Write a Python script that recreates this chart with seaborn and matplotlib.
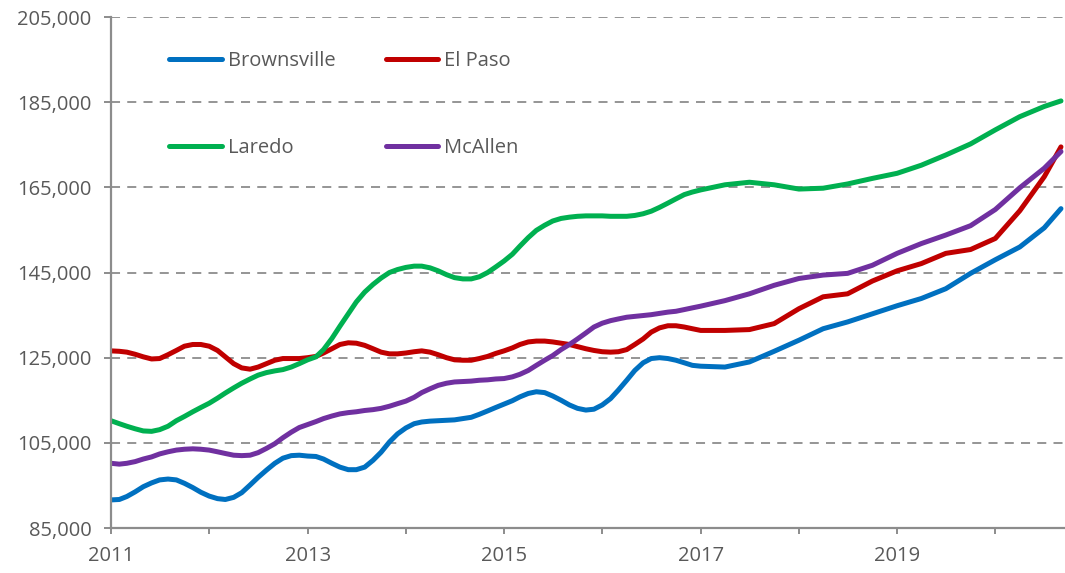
import pandas as pd
import matplotlib
matplotlib.use("Agg")
import matplotlib.pyplot as plt
import matplotlib.ticker as mticker
import seaborn as sns

# readings (thousands of $): monthly Jan 2011 - Jan 2017, then quarterly, last = Sep 2020
months = ([f"{y}-{m:02d}" for y in range(2011, 2017) for m in range(1, 13)] + ["2017-01"]
          + [f"{y}-{m:02d}" for y in range(2017, 2021) for m in (1, 4, 7, 10)][1:15]
          + ["2020-09"])

brownsville = [91.6, 91.7, 92.4, 93.5, 94.7, 95.6, 96.3, 96.5, 96.3, 95.5, 94.5, 93.4,
               92.5, 91.9, 91.7, 92.2, 93.3, 95.1, 96.9, 98.6, 100.2, 101.4, 102.0, 102.1,
               101.9, 101.8, 101.2, 100.2, 99.3, 98.7, 98.7, 99.3, 100.9, 102.8, 105.2, 107.1,
               108.5, 109.5, 109.9, 110.1, 110.2, 110.3, 110.4, 110.7, 111.0, 111.7, 112.5, 113.3,
               114.1, 114.9, 115.8, 116.6, 117.0, 116.8, 116.0, 115.0, 113.9, 113.1, 112.7, 112.9,
               113.9, 115.4, 117.4, 119.7, 122.0, 123.8, 124.8, 125.0, 124.8, 124.4, 123.8, 123.2,
               123.0, 122.8, 124.0, 126.5, 129.1, 131.8, 133.4, 135.3, 137.2, 138.9, 141.2, 144.8,
               148.0, 151.0, 155.5, 160.0]
el_paso = [126.6, 126.5, 126.3, 125.8, 125.2, 124.7, 124.8, 125.7, 126.7, 127.7, 128.1, 128.1,
           127.7, 126.7, 125.2, 123.6, 122.6, 122.3, 122.8, 123.6, 124.4, 124.8, 124.8, 124.8,
           125.0, 125.3, 126.1, 127.1, 128.1, 128.5, 128.4, 127.9, 127.1, 126.3, 125.9, 125.9,
           126.1, 126.4, 126.6, 126.3, 125.7, 125.0, 124.5, 124.4, 124.4, 124.8, 125.3, 126.0,
           126.6, 127.3, 128.1, 128.7, 128.9, 128.9, 128.7, 128.4, 128.1, 127.6, 127.1, 126.7,
           126.4, 126.3, 126.4, 126.9, 128.1, 129.4, 131.0, 132.0, 132.5, 132.5, 132.2, 131.8,
           131.4, 131.4, 131.6, 133.0, 136.5, 139.3, 140.0, 143.0, 145.4, 147.1, 149.5, 150.4,
           153.0, 159.5, 167.5, 174.5]
laredo = [110.2, 109.5, 108.9, 108.3, 107.8, 107.7, 108.1, 108.9, 110.2, 111.2, 112.3, 113.3,
          114.3, 115.5, 116.7, 117.9, 119.0, 120.0, 120.9, 121.5, 121.9, 122.2, 122.8, 123.6,
          124.5, 125.2, 126.9, 129.5, 132.4, 135.3, 138.1, 140.4, 142.2, 143.7, 145.0, 145.7,
          146.2, 146.5, 146.5, 146.1, 145.4, 144.5, 143.8, 143.5, 143.5, 144.0, 145.0, 146.3,
          147.7, 149.3, 151.2, 153.2, 154.9, 156.1, 157.1, 157.7, 158.0, 158.2, 158.3, 158.3,
          158.3, 158.2, 158.2, 158.2, 158.4, 158.8, 159.4, 160.3, 161.3, 162.3, 163.3, 163.9,
          164.4, 165.6, 166.2, 165.6, 164.6, 164.8, 165.8, 167.1, 168.3, 170.2, 172.6, 175.2,
          178.5, 181.6, 184.0, 185.3]
mcallen = [100.2, 100.0, 100.2, 100.6, 101.2, 101.7, 102.4, 102.9, 103.3, 103.5, 103.6, 103.5,
           103.3, 102.9, 102.5, 102.1, 102.0, 102.1, 102.7, 103.7, 104.8, 106.2, 107.5, 108.6,
           109.3, 110.0, 110.7, 111.3, 111.8, 112.1, 112.3, 112.6, 112.8, 113.1, 113.6, 114.2,
           114.8, 115.7, 116.8, 117.7, 118.5, 119.0, 119.3, 119.4, 119.5, 119.7, 119.8, 120.0,
           120.1, 120.5, 121.1, 122.0, 123.2, 124.4, 125.5, 126.9, 128.1, 129.4, 130.8, 132.2,
           133.1, 133.7, 134.1, 134.5, 134.7, 134.9, 135.1, 135.4, 135.7, 135.9, 136.3, 136.7,
           137.1, 138.4, 140.0, 142.0, 143.6, 144.4, 144.8, 146.7, 149.5, 151.8, 153.8, 156.0,
           159.8, 164.9, 169.5, 173.4]

cities = ["Brownsville", "El Paso", "Laredo", "McAllen"]
colors = ["#0070C0", "#C00000", "#00B050", "#7030A0"]
year_ticks = list(range(2011, 2021))
year_labels = [str(y) if y % 2 == 1 else "" for y in year_ticks]
y_ticks = list(range(85000, 205001, 20000))

dates = pd.to_datetime(months)
df = pd.concat([
    pd.DataFrame({"date": dates, "price": [v * 1000 for v in vals], "city": name})
    for name, vals in zip(cities, [brownsville, el_paso, laredo, mcallen])
])

sns.set_style("white")
plt.rcParams["font.family"] = ["Open Sans", "DejaVu Sans"]

fig = plt.figure(figsize=(10.65, 5.73), dpi=100)
ax = fig.add_axes([0.1042, 0.0785, 0.8958, 0.8918])

sns.lineplot(data=df, x="date", y="price", hue="city", hue_order=cities,
             palette=colors, linewidth=3.6, ax=ax, legend=False)
for ln in ax.lines:
    ln.set_solid_joinstyle("round")

ax.set_ylim(85000, 205000)
ax.set_xlim(dates[0], dates[-1] + pd.Timedelta(days=15))
ax.set_yticks(y_ticks)
ax.yaxis.set_major_formatter(mticker.FuncFormatter(lambda v, p: f"{v:,.0f}"))
ax.set_xticks(pd.to_datetime([f"{y}-01-01" for y in year_ticks]))
ax.set_xticklabels(year_labels)
ax.set_xlabel("")
ax.set_ylabel("")

gray = "#8C8C8C"
for y in y_ticks:
    ax.axhline(y, color=gray, lw=1.3, ls=(0, (5, 4)), zorder=0)

for s in ["top", "right"]:
    ax.spines[s].set_visible(False)
for s in ["left", "bottom"]:
    ax.spines[s].set_color(gray)
    ax.spines[s].set_linewidth(1.6)

ax.tick_params(axis="both", colors=gray, labelcolor="#595959", labelsize=14.5,
               direction="out", width=1.4, left=True, bottom=True)
ax.tick_params(axis="x", length=4, pad=9)
ax.tick_params(axis="y", length=5, pad=9)

# matplotlib fills legend columns first, so order handles to get two rows
order = [0, 2, 1, 3]
handles = [plt.Line2D([0], [0], color=colors[i], lw=3.6, solid_capstyle="round") for i in order]
ax.legend(handles, [cities[i] for i in order], ncol=2, loc="upper left",
          bbox_to_anchor=(0.042, 0.968), frameon=False, fontsize=14.5,
          handlelength=2.6, handletextpad=0.3, columnspacing=2.5, labelspacing=3.3,
          labelcolor="#595959")

fig.savefig("out.png", dpi=100)
